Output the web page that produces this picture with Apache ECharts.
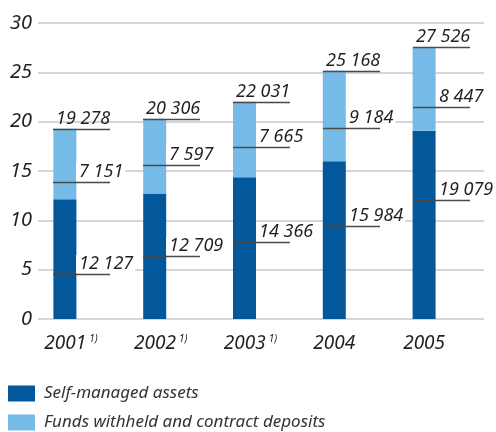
<!DOCTYPE html>
<html>
<head>
<meta charset="utf-8">
<script src="https://cdn.jsdelivr.net/npm/echarts@6/dist/echarts.min.js"></script>
<style>
  html, body { margin: 0; padding: 0; background: #fff; }
  #chart { width: 496px; height: 432px; }
</style>
</head>
<body>
<div id="chart"></div>
<script>
// Years on the x axis; the first three carry footnote 1)
const categories = ['2001', '2002', '2003', '2004', '2005'];
const footnoted = [true, true, true, false, false];

// Values (in millions), stacked per year
const selfManaged = [12127, 12709, 14366, 15984, 19079];
const fundsWithheld = [7151, 7597, 7665, 9184, 8447];
const totals = selfManaged.map((v, i) => v + fundsWithheld[i]);

// Y axis ticks, shown in billions
const yTickValues = [0, 5000, 10000, 15000, 20000, 25000, 30000];

// Heights at which the segment value labels and their leader lines sit
const selfLabelLevel = [4530, 6390, 7770, 9390, 12060];
const fundsLabelLevel = [13900, 15580, 17460, 19330, 21450];

const SERIES_NAMES = ['Self-managed assets', 'Funds withheld and contract deposits'];

const DARK = '#03579B';
const LIGHT = '#76BBE7';
const TEXT = '#231F20';
const FONT = 'Noto Sans';
const BAR_W = 23;
const LEADER_W = 57;

function fmt(n) {
  return String(n).replace(/\B(?=(\d{3})+(?!\d))/g, ' ');
}

const chart = echarts.init(document.getElementById('chart'), null, { renderer: 'canvas' });

const legendBase = {
  left: 8,
  itemWidth: 27,
  itemHeight: 16,
  itemGap: 10,
  icon: 'rect',
  padding: 0,
  textStyle: {
    fontFamily: FONT,
    fontStyle: 'italic',
    fontSize: 17,
    color: '#333',
    padding: [0, 0, 0, 4]
  }
};

const option = {
  animation: false,
  backgroundColor: '#fff',
  textStyle: { fontFamily: FONT },
  legend: [
    Object.assign({}, legendBase, { top: 385, data: [SERIES_NAMES[0]] }),
    Object.assign({}, legendBase, { top: 414, data: [SERIES_NAMES[1]] })
  ],
  grid: [
    { left: 38, right: 12, top: 23, bottom: 113 },
    { left: 20, right: 27, top: 23, bottom: 113 }
  ],
  xAxis: [
    { gridIndex: 0, type: 'value', min: 0, max: 1, show: false },
    {
      gridIndex: 1,
      type: 'category',
      data: categories,
      axisLine: { show: false },
      axisTick: { show: false },
      axisLabel: {
        interval: 0,
        margin: 15,
        formatter: (v, i) => footnoted[i] ? '{p|}{y|' + v + '}{s|1)}' : '{y|' + v + '}',
        rich: {
          y: { fontFamily: FONT, fontStyle: 'italic', fontSize: 19, color: TEXT },
          s: { fontFamily: FONT, fontStyle: 'italic', fontSize: 10, color: TEXT, verticalAlign: 'top', padding: [0, 0, 0, 3] },
          p: { width: 12 }
        }
      }
    }
  ],
  yAxis: [
    {
      gridIndex: 0,
      type: 'value',
      min: 0,
      max: 30000,
      interval: 5000,
      axisLine: { show: false },
      axisTick: { show: false },
      splitLine: { lineStyle: { color: '#c8c8c8', width: 1.5 } },
      axisLabel: {
        margin: 6,
        fontFamily: FONT,
        fontStyle: 'italic',
        fontSize: 20,
        color: TEXT,
        formatter: v => yTickValues.includes(v) ? String(v / 1000) : ''
      }
    },
    { gridIndex: 1, type: 'value', min: 0, max: 30000, interval: 5000, show: false }
  ],
  series: [
    {
      name: SERIES_NAMES[0],
      type: 'bar',
      xAxisIndex: 1,
      yAxisIndex: 1,
      stack: 'total',
      barWidth: BAR_W,
      itemStyle: { color: DARK },
      data: selfManaged
    },
    {
      name: SERIES_NAMES[1],
      type: 'bar',
      xAxisIndex: 1,
      yAxisIndex: 1,
      stack: 'total',
      barWidth: BAR_W,
      itemStyle: { color: LIGHT },
      data: fundsWithheld
    },
    {
      // value labels with leader lines
      type: 'custom',
      xAxisIndex: 1,
      yAxisIndex: 1,
      clip: false,
      z: 5,
      silent: true,
      data: categories.map((c, i) => [i, totals[i]]),
      encode: { x: 0, y: 1 },
      renderItem: (params, api) => {
        const i = params.dataIndex;
        const labels = [
          { value: totals[i], level: totals[i], onTop: true },
          { value: fundsWithheld[i], level: fundsLabelLevel[i], onTop: false },
          { value: selfManaged[i], level: selfLabelLevel[i], onTop: false }
        ];
        const children = [];
        labels.forEach(l => {
          const p = api.coord([i, l.level]);
          const left = Math.round(p[0] - BAR_W / 2);
          const y = Math.round(p[1]) + 0.5;
          children.push({
            type: 'text',
            x: l.onTop ? left : left + BAR_W,
            y: y - 1.5,
            style: {
              text: fmt(l.value),
              fontFamily: FONT,
              fontStyle: 'italic',
              fontSize: 18,
              fill: TEXT,
              align: 'left',
              verticalAlign: 'bottom',
              backgroundColor: l.onTop ? 'transparent' : '#fff',
              padding: [0, 2, 0, 3]
            }
          });
          children.push({
            type: 'line',
            shape: { x1: left, y1: y, x2: left + LEADER_W, y2: y },
            style: { stroke: '#4a4a4a', lineWidth: 1.3 }
          });
        });
        return { type: 'group', children };
      }
    }
  ]
};

chart.setOption(option);
</script>
</body>
</html>
